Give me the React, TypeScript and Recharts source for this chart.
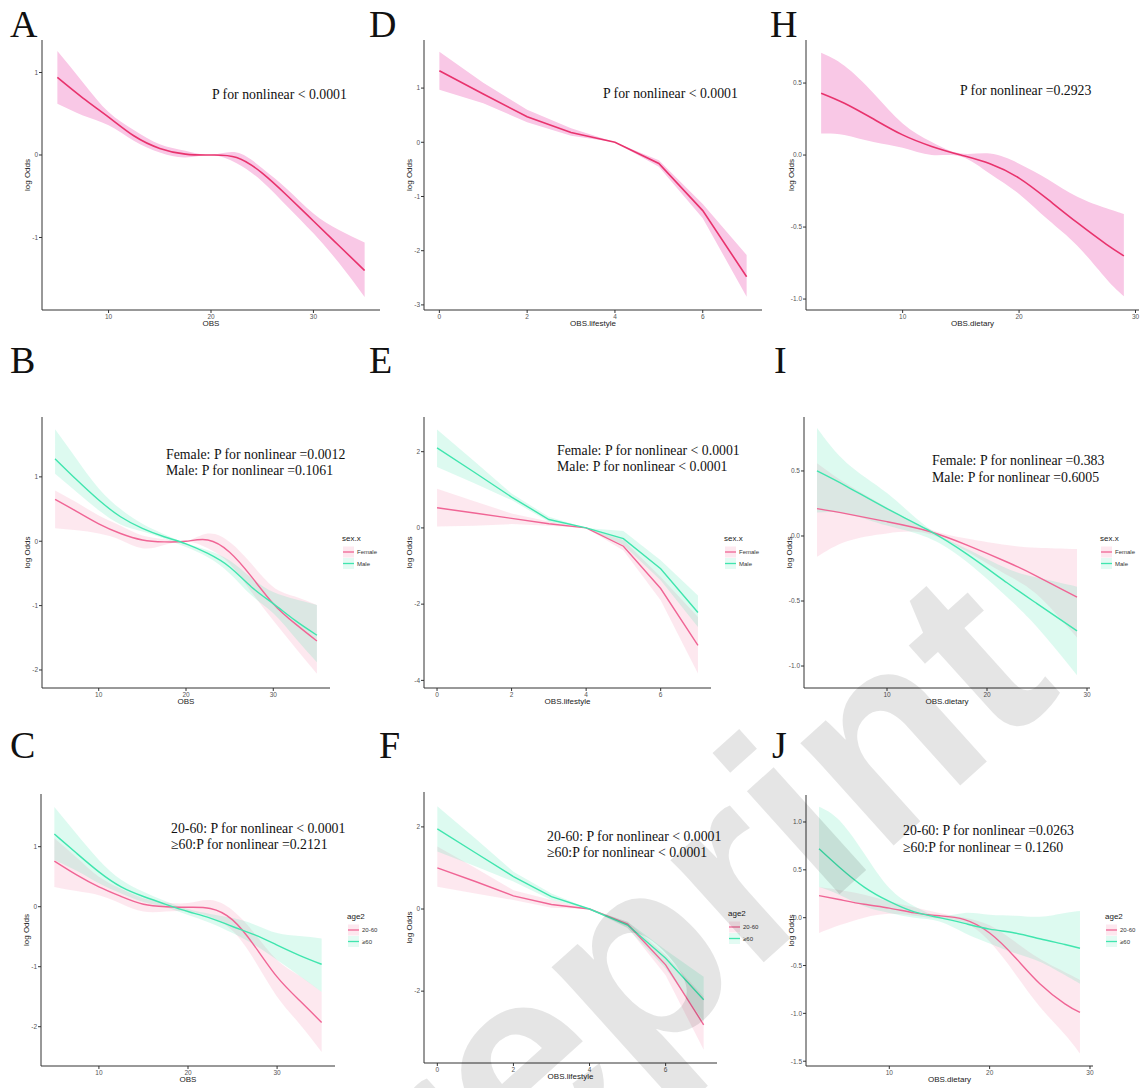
import React from "react";
import { ComposedChart, Area, Line, XAxis, YAxis } from "recharts";

// x grids
const X_OBS = [5, 7.5, 10, 12.5, 15, 17.5, 20, 22.5, 25, 27.5, 30, 32.5, 35];
const X_LIFE = [0, 1, 2, 3, 4, 5, 6, 7];
const X_DIET = [3, 5, 7.5, 10, 12.5, 15, 17.5, 20, 22.5, 25, 27.5, 29];
const X_DIET_I = [3, 6, 10, 14, 18, 22, 25, 29];

// A - OBS overall
const A_FIT = [0.94, 0.69, 0.46, 0.23, 0.08, 0.01, 0.0, -0.03, -0.22, -0.5, -0.8, -1.1, -1.4];
const A_LO = [0.62, 0.48, 0.36, 0.17, 0.03, -0.03, 0.0, -0.1, -0.32, -0.63, -0.95, -1.31, -1.72];
const A_HI = [1.26, 0.88, 0.52, 0.3, 0.13, 0.05, 0.0, 0.03, -0.16, -0.42, -0.71, -0.91, -1.06];

// D - lifestyle overall
const D_FIT = [1.32, 0.89, 0.47, 0.18, 0.0, -0.39, -1.26, -2.48];
const D_LO = [0.97, 0.72, 0.37, 0.12, 0.0, -0.45, -1.4, -2.85];
const D_HI = [1.67, 1.1, 0.6, 0.26, 0.0, -0.33, -1.14, -2.08];

// H - dietary overall
const H_FIT = [0.43, 0.36, 0.25, 0.14, 0.06, 0.0, -0.06, -0.16, -0.31, -0.47, -0.62, -0.7];
const H_LO = [0.15, 0.14, 0.09, 0.05, 0.0, -0.01, -0.13, -0.27, -0.45, -0.63, -0.86, -0.98];
const H_HI = [0.71, 0.62, 0.43, 0.22, 0.09, 0.01, 0.01, -0.06, -0.17, -0.29, -0.37, -0.41];

// B - OBS by sex
const B_F_FIT = [0.65, 0.46, 0.27, 0.12, 0.02, -0.01, 0.0, 0.02, -0.17, -0.55, -0.97, -1.28, -1.55];
const B_F_LO = [0.2, 0.17, 0.12, 0.02, -0.11, -0.06, 0.0, -0.11, -0.35, -0.79, -1.23, -1.65, -2.06];
const B_F_HI = [0.79, 0.6, 0.4, 0.24, 0.09, 0.03, 0.0, 0.12, -0.01, -0.35, -0.71, -0.86, -0.99];
const B_M_FIT = [1.28, 0.95, 0.64, 0.38, 0.2, 0.07, -0.04, -0.19, -0.4, -0.71, -0.97, -1.23, -1.46];
const B_M_LO = [1.05, 0.76, 0.48, 0.26, 0.15, 0.04, -0.09, -0.25, -0.5, -0.84, -1.12, -1.5, -1.88];
const B_M_HI = [1.74, 1.27, 0.82, 0.5, 0.27, 0.11, -0.03, -0.14, -0.3, -0.57, -0.79, -0.9, -0.99];

// E - lifestyle by sex
const E_F_FIT = [0.53, 0.39, 0.25, 0.11, 0.0, -0.48, -1.59, -3.08];
const E_F_LO = [0.04, 0.06, 0.1, 0.06, 0.0, -0.59, -1.9, -3.82];
const E_F_HI = [1.03, 0.7, 0.38, 0.17, 0.0, -0.32, -1.29, -2.34];
const E_M_FIT = [2.1, 1.46, 0.81, 0.22, 0.0, -0.28, -1.07, -2.22];
const E_M_LO = [1.6, 1.17, 0.73, 0.16, 0.0, -0.45, -1.37, -2.6];
const E_M_HI = [2.58, 1.75, 0.9, 0.29, 0.0, -0.08, -0.85, -1.77];

// I - dietary by sex
const I_F_FIT = [0.21, 0.17, 0.11, 0.04, -0.07, -0.2, -0.31, -0.47];
const I_F_LO = [-0.16, -0.04, 0.02, 0.02, -0.12, -0.3, -0.45, -0.78];
const I_F_HI = [0.56, 0.4, 0.22, 0.06, -0.02, -0.07, -0.09, -0.1];
const I_M_FIT = [0.5, 0.38, 0.21, 0.05, -0.14, -0.36, -0.52, -0.73];
const I_M_LO = [0.18, 0.17, 0.08, -0.01, -0.2, -0.47, -0.7, -1.07];
const I_M_HI = [0.83, 0.56, 0.33, 0.07, -0.1, -0.25, -0.32, -0.39];

// C - OBS by age
const C_Y_FIT = [0.76, 0.53, 0.33, 0.17, 0.04, 0.0, -0.01, -0.03, -0.22, -0.66, -1.17, -1.56, -1.93];
const C_Y_LO = [0.33, 0.26, 0.19, 0.05, -0.08, -0.08, -0.08, -0.17, -0.4, -0.9, -1.5, -1.95, -2.42];
const C_Y_HI = [1.14, 0.82, 0.5, 0.3, 0.14, 0.07, 0.06, 0.11, -0.06, -0.45, -0.89, -1.15, -1.42];
const C_O_FIT = [1.21, 0.89, 0.58, 0.33, 0.17, 0.04, -0.08, -0.19, -0.33, -0.47, -0.64, -0.81, -0.96];
const C_O_LO = [0.78, 0.6, 0.39, 0.22, 0.08, -0.01, -0.14, -0.27, -0.44, -0.64, -0.89, -1.15, -1.42];
const C_O_HI = [1.66, 1.21, 0.78, 0.45, 0.25, 0.09, -0.04, -0.12, -0.19, -0.3, -0.44, -0.49, -0.53];

// F - lifestyle by age
const F_Y_FIT = [1.0, 0.67, 0.32, 0.11, 0.0, -0.37, -1.36, -2.82];
const F_Y_LO = [0.54, 0.38, 0.22, 0.03, 0.0, -0.45, -1.61, -3.43];
const F_Y_HI = [1.52, 1.0, 0.46, 0.22, 0.0, -0.31, -1.12, -2.13];
const F_O_FIT = [1.95, 1.37, 0.79, 0.3, 0.0, -0.39, -1.2, -2.21];
const F_O_LO = [1.4, 1.04, 0.67, 0.22, 0.0, -0.47, -1.45, -2.74];
const F_O_HI = [2.5, 1.72, 0.91, 0.38, 0.0, -0.31, -1.0, -1.65];

// J - dietary by age
const J_Y_FIT = [0.23, 0.19, 0.14, 0.1, 0.05, 0.02, -0.02, -0.16, -0.41, -0.69, -0.9, -0.99];
const J_Y_LO = [-0.16, -0.08, 0.0, 0.04, 0.02, -0.01, -0.05, -0.25, -0.58, -0.93, -1.22, -1.42];
const J_Y_HI = [0.32, 0.29, 0.24, 0.17, 0.11, 0.05, 0.0, -0.08, -0.25, -0.43, -0.57, -0.65];
const J_O_FIT = [0.72, 0.53, 0.32, 0.17, 0.06, 0.0, -0.06, -0.12, -0.16, -0.22, -0.28, -0.32];
const J_O_LO = [0.32, 0.24, 0.12, 0.05, 0.0, -0.04, -0.16, -0.27, -0.37, -0.46, -0.6, -0.69];
const J_O_HI = [1.16, 1.02, 0.67, 0.31, 0.12, 0.02, 0.05, 0.03, 0.02, 0.01, 0.05, 0.07];

// ticks
const TICKS_OBS = [10, 20, 30];
const TICKS_LIFE = [0, 2, 4, 6];
const TICKS_DIET = [10, 20, 30];

const ONE_LINE = "#E8336D";
const ONE_BAND = "#F9C8E6";
const F_COL = "#F06595";
const M_COL = "#40E5AE";

const AXIS = "#333333";
const SANS = "Liberation Sans, Arial, sans-serif";
const SERIF = "Liberation Serif, Times New Roman, serif";

function rows1(xs: number[], fit: number[], lo: number[], hi: number[]) {
  return xs.map((x, i) => ({ x, aFit: fit[i], aBand: [lo[i], hi[i]] }));
}

function rows2(
  xs: number[],
  fFit: number[], fLo: number[], fHi: number[],
  mFit: number[], mLo: number[], mHi: number[]
) {
  return xs.map((x, i) => ({
    x,
    aFit: fFit[i],
    aBand: [fLo[i], fHi[i]],
    bFit: mFit[i],
    bBand: [mLo[i], mHi[i]],
  }));
}

const SINGLE = [{ k: "a", line: ONE_LINE, fill: ONE_BAND, op: 1, w: 1.6 }];
const PAIR = [
  { k: "a", line: F_COL, fill: F_COL, op: 0.15, w: 1.4 },
  { k: "b", line: M_COL, fill: M_COL, op: 0.18, w: 1.4 },
];

interface PanelProps {
  x0: number; y0: number; x1: number; y1: number;
  rows: any[];
  xDomain: [number, number];
  xTicks: number[];
  yDomain: [number, number];
  yTicks: number[];
  dec: boolean;
  xLabel: string;
  curve: "natural" | "linear";
  groups: typeof PAIR;
}

function Panel(p: PanelProps) {
  const w = p.x1 - p.x0 + 45;
  const h = p.y1 - p.y0 + 35;
  return (
    <div style={{ position: "absolute", left: p.x0 - 40, top: p.y0 - 5 }}>
      <ComposedChart width={w} height={h} data={p.rows} margin={{ top: 5, right: 5, left: 0, bottom: 0 }}>
        <XAxis
          type="number"
          dataKey="x"
          domain={p.xDomain}
          ticks={p.xTicks}
          allowDataOverflow
          height={30}
          tickSize={3}
          tickMargin={1}
          tick={{ fill: "#555", fontSize: 6.5, fontFamily: SANS }}
          axisLine={{ stroke: AXIS, strokeWidth: 1 }}
          tickLine={{ stroke: AXIS }}
          label={{
            value: p.xLabel,
            position: "insideBottom",
            offset: 14,
            style: { fill: "#222", fontSize: 8, fontFamily: SANS },
          }}
        />
        <YAxis
          type="number"
          domain={p.yDomain}
          ticks={p.yTicks}
          allowDataOverflow
          width={40}
          tickSize={3}
          tickMargin={1}
          tickFormatter={(v: number) => (p.dec ? v.toFixed(1) : String(v))}
          tick={{ fill: "#555", fontSize: 6.5, fontFamily: SANS }}
          axisLine={{ stroke: AXIS, strokeWidth: 1 }}
          tickLine={{ stroke: AXIS }}
          label={{
            value: "log Odds",
            angle: -90,
            position: "insideLeft",
            offset: 25,
            style: { textAnchor: "middle", fill: "#222", fontSize: 8, fontFamily: SANS },
          }}
        />
        {p.groups.map((g) => (
          <Area
            key={g.k + "band"}
            dataKey={g.k + "Band"}
            type={p.curve}
            stroke="none"
            fill={g.fill}
            fillOpacity={g.op}
            dot={false}
            activeDot={false}
            isAnimationActive={false}
          />
        ))}
        {p.groups.map((g) => (
          <Line
            key={g.k + "fit"}
            dataKey={g.k + "Fit"}
            type={p.curve}
            stroke={g.line}
            strokeWidth={g.w}
            dot={false}
            activeDot={false}
            isAnimationActive={false}
          />
        ))}
      </ComposedChart>
    </div>
  );
}

function Legend2({ x, y, title, labels }: { x: number; y: number; title: string; labels: string[] }) {
  const cols = [F_COL, M_COL];
  return (
    <g>
      <text x={x} y={y} fontSize={8} fontFamily={SANS} fill="#222">{title}</text>
      {labels.map((l, i) => {
        const cy = y + 11 + i * 11.5;
        return (
          <g key={l}>
            <rect x={x + 1} y={cy - 5.5} width={11} height={11} fill={cols[i]} fillOpacity={0.15} />
            <line x1={x + 1} x2={x + 12} y1={cy} y2={cy} stroke={cols[i]} strokeWidth={1.3} />
            <text x={x + 15} y={cy + 2.2} fontSize={6} fontFamily={SANS} fill="#333">{l}</text>
          </g>
        );
      })}
    </g>
  );
}

const LETTERS: [string, number, number][] = [
  ["A", 10, 37], ["D", 369, 37], ["H", 770, 37],
  ["B", 10, 373], ["E", 369, 373], ["I", 774, 373],
  ["C", 10, 758], ["F", 379, 758], ["J", 772, 758],
];

const NOTES: [string, number, number][] = [
  ["P for nonlinear < 0.0001", 212, 99],
  ["P for nonlinear < 0.0001", 603, 98],
  ["P for nonlinear =0.2923", 960, 95],
  ["Female: P for nonlinear =0.0012", 166, 459],
  ["Male: P for nonlinear =0.1061", 166, 475],
  ["Female: P for nonlinear < 0.0001", 557, 455],
  ["Male: P for nonlinear < 0.0001", 557, 471],
  ["Female: P for nonlinear =0.383", 932, 465],
  ["Male: P for nonlinear =0.6005", 932, 482],
  ["20-60: P for nonlinear < 0.0001", 171, 833],
  ["≥60:P for nonlinear =0.2121", 171, 849],
  ["20-60: P for nonlinear < 0.0001", 547, 841],
  ["≥60:P for nonlinear < 0.0001", 547, 857],
  ["20-60: P for nonlinear =0.0263", 903, 835],
  ["≥60:P for nonlinear = 0.1260", 903, 852],
];

export default function App() {
  return (
    <div style={{ position: "absolute", left: 0, top: 0, width: 1143, height: 1088, background: "#fff", overflow: "hidden" }}>
      <Panel x0={42} y0={40} x1={380} y1={310} rows={rows1(X_OBS, A_FIT, A_LO, A_HI)}
        xDomain={[3.5, 36.5]} xTicks={TICKS_OBS} yDomain={[-1.879, 1.394]} yTicks={[-1, 0, 1]}
        dec={false} xLabel="OBS" curve="natural" groups={SINGLE} />
      <Panel x0={424} y0={40} x1={762} y1={310} rows={rows1(X_LIFE, D_FIT, D_LO, D_HI)}
        xDomain={[-0.35, 7.35]} xTicks={TICKS_LIFE} yDomain={[-3.094, 1.887]} yTicks={[-3, -2, -1, 0, 1]}
        dec={false} xLabel="OBS.lifestyle" curve="linear" groups={SINGLE} />
      <Panel x0={806} y0={40} x1={1139} y1={310} rows={rows1(X_DIET, H_FIT, H_LO, H_HI)}
        xDomain={[1.7, 30.3]} xTicks={TICKS_DIET} yDomain={[-1.076, 0.799]} yTicks={[-1, -0.5, 0, 0.5]}
        dec={true} xLabel="OBS.dietary" curve="natural" groups={SINGLE} />

      <Panel x0={42} y0={417} x1={330} y1={688} rows={rows2(X_OBS, B_F_FIT, B_F_LO, B_F_HI, B_M_FIT, B_M_LO, B_M_HI)}
        xDomain={[3.5, 36.5]} xTicks={TICKS_OBS} yDomain={[-2.28, 1.93]} yTicks={[-2, -1, 0, 1]}
        dec={false} xLabel="OBS" curve="natural" groups={PAIR} />
      <Panel x0={424} y0={417} x1={711} y1={688} rows={rows2(X_LIFE, E_F_FIT, E_F_LO, E_F_HI, E_M_FIT, E_M_LO, E_M_HI)}
        xDomain={[-0.35, 7.35]} xTicks={TICKS_LIFE} yDomain={[-4.2, 2.91]} yTicks={[-4, -2, 0, 2]}
        dec={false} xLabel="OBS.lifestyle" curve="linear" groups={PAIR} />
      <Panel x0={804} y0={417} x1={1090} y1={688} rows={rows2(X_DIET_I, I_F_FIT, I_F_LO, I_F_HI, I_M_FIT, I_M_LO, I_M_HI)}
        xDomain={[1.7, 30.3]} xTicks={TICKS_DIET} yDomain={[-1.169, 0.915]} yTicks={[-1, -0.5, 0, 0.5]}
        dec={true} xLabel="OBS.dietary" curve="natural" groups={PAIR} />

      <Panel x0={41} y0={794} x1={335} y1={1066} rows={rows2(X_OBS, C_Y_FIT, C_Y_LO, C_Y_HI, C_O_FIT, C_O_LO, C_O_HI)}
        xDomain={[3.5, 36.5]} xTicks={TICKS_OBS} yDomain={[-2.655, 1.878]} yTicks={[-2, -1, 0, 1]}
        dec={false} xLabel="OBS" curve="natural" groups={PAIR} />
      <Panel x0={424} y0={792} x1={717} y1={1063} rows={rows2(X_LIFE, F_Y_FIT, F_Y_LO, F_Y_HI, F_O_FIT, F_O_LO, F_O_HI)}
        xDomain={[-0.35, 7.35]} xTicks={TICKS_LIFE} yDomain={[-3.75, 2.85]} yTicks={[-2, 0, 2]}
        dec={false} xLabel="OBS.lifestyle" curve="linear" groups={PAIR} />
      <Panel x0={806} y0={795} x1={1093} y1={1066} rows={rows2(X_DIET, J_Y_FIT, J_Y_LO, J_Y_HI, J_O_FIT, J_O_LO, J_O_HI)}
        xDomain={[1.7, 30.3]} xTicks={TICKS_DIET} yDomain={[-1.55, 1.282]} yTicks={[-1.5, -1, -0.5, 0, 0.5, 1]}
        dec={true} xLabel="OBS.dietary" curve="natural" groups={PAIR} />

      <svg width={1143} height={1088} style={{ position: "absolute", left: 0, top: 0, pointerEvents: "none" }}>
        {LETTERS.map(([t, x, y]) => (
          <text key={t} x={x} y={y} fontSize={38} fontFamily={SERIF} fill="#111">{t}</text>
        ))}
        {NOTES.map(([t, x, y], i) => (
          <text key={i} x={x} y={y} fontSize={13.8} fontFamily={SERIF} fill="#111">{t}</text>
        ))}
        <Legend2 x={342} y={541} title="sex.x" labels={["Female", "Male"]} />
        <Legend2 x={724} y={541} title="sex.x" labels={["Female", "Male"]} />
        <Legend2 x={1100} y={541} title="sex.x" labels={["Female", "Male"]} />
        <Legend2 x={347} y={919} title="age2" labels={["20-60", "≥60"]} />
        <Legend2 x={728} y={916} title="age2" labels={["20-60", "≥60"]} />
        <Legend2 x={1105} y={919} title="age2" labels={["20-60", "≥60"]} />
        <text
          x={630}
          y={961}
          fontSize={262}
          fontWeight="bold"
          fontFamily={SANS}
          fill="#000"
          fillOpacity={0.1}
          textAnchor="middle"
          dominantBaseline="central"
          transform="rotate(-42 630 961)"
        >
          Preprint
        </text>
      </svg>
    </div>
  );
}
